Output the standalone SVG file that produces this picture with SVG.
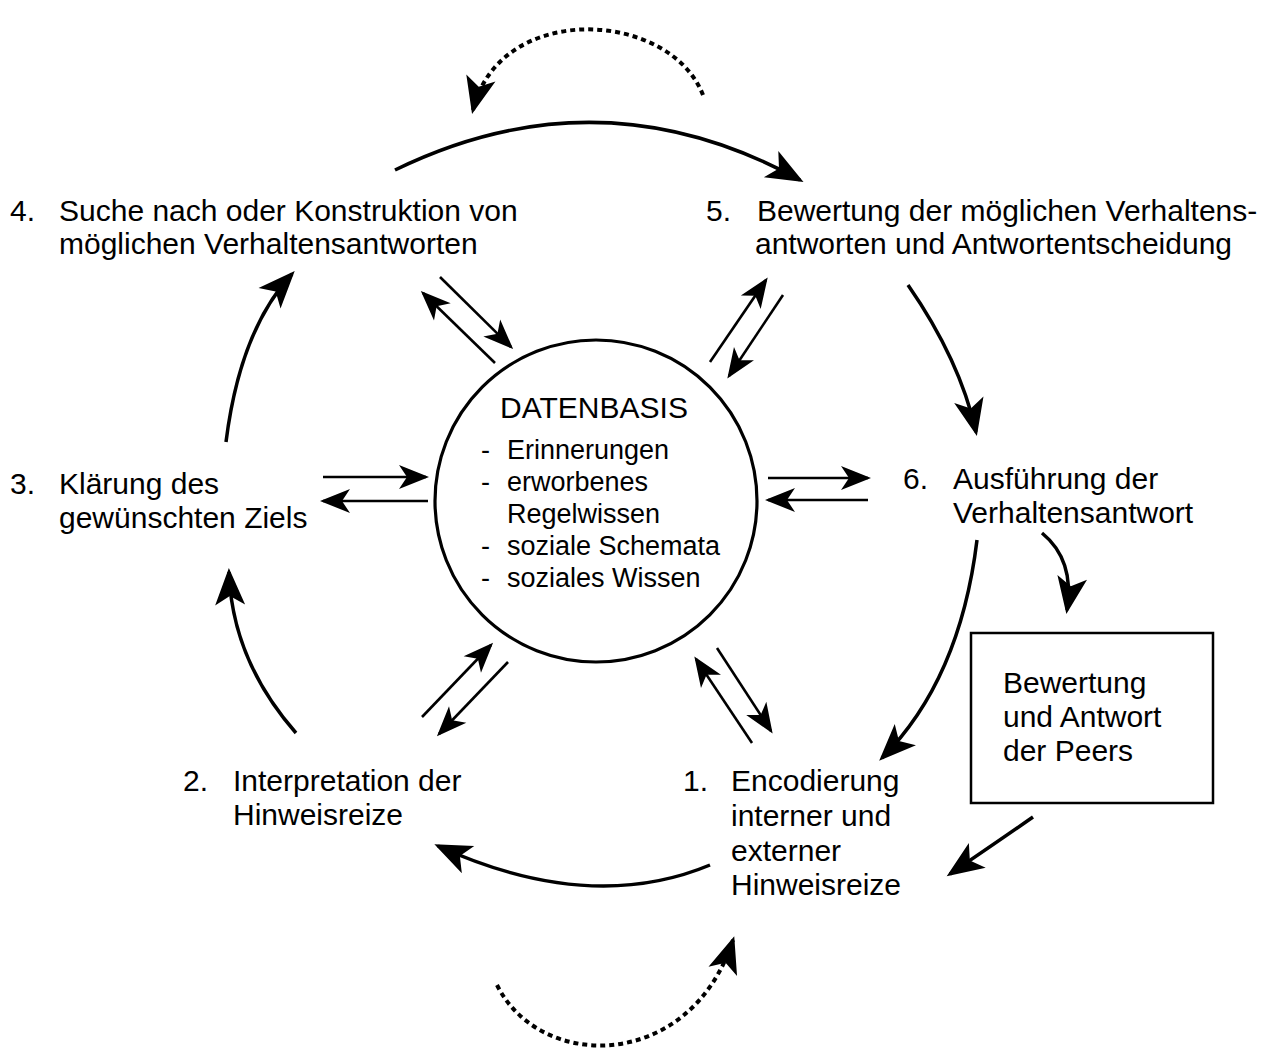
<svg xmlns="http://www.w3.org/2000/svg" width="1273" height="1052" viewBox="0 0 1273 1052">
<style>
text{font-family:"Liberation Sans",Arial,sans-serif;font-size:30px;fill:#000}
.l{font-size:27px}
.c{fill:none;stroke:#000;stroke-width:3.5}
.p{fill:none;stroke:#000;stroke-width:2.6}
.d{fill:none;stroke:#000;stroke-width:4;stroke-dasharray:5 4}
</style>
<defs>
<marker id="big" markerUnits="userSpaceOnUse" markerWidth="46" markerHeight="40" viewBox="-40 -20 46 40" refX="0" refY="0" orient="auto">
<path d="M4,0 L-33,-15 L-24,0 L-33,15 Z" fill="#000"/>
</marker>
<marker id="sm" markerUnits="userSpaceOnUse" markerWidth="38" markerHeight="34" viewBox="-32 -17 38 34" refX="0" refY="0" orient="auto">
<path d="M3,0 L-27,-12 L-19,0 L-27,12 Z" fill="#000"/>
</marker>
</defs>
<rect width="1273" height="1052" fill="#fff"/>
<g id="connectors">
<path class="c" d="M395,170 Q600,70 800,180" marker-end="url(#big)"/>
<path class="d" d="M703,95 C670,10 500,0 473,110" marker-end="url(#big)"/>
<path class="d" d="M497,985 C540,1072 690,1072 733,940" marker-end="url(#big)"/>
<path class="c" d="M226,442 Q240,330 292,274" marker-end="url(#big)"/>
<path class="c" d="M296,733 Q232,660 229,572" marker-end="url(#big)"/>
<path class="c" d="M710,865 Q590,915 438,846" marker-end="url(#big)"/>
<path class="c" d="M908,285 Q960,360 976,432" marker-end="url(#big)"/>
<path class="c" d="M977,540 Q960,680 882,758" marker-end="url(#big)"/>
<path class="c" d="M1042,533 Q1075,560 1067,610" marker-end="url(#big)"/>
<path class="c" d="M1033,817 Q1000,840 950,874" marker-end="url(#big)"/>
<path class="p" d="M323,477 L426,477" marker-end="url(#sm)"/>
<path class="p" d="M428,501 L323,501" marker-end="url(#sm)"/>
<path class="p" d="M768,478 L868,478" marker-end="url(#sm)"/>
<path class="p" d="M868,500 L768,500" marker-end="url(#sm)"/>
<path class="p" d="M495,363 L423,293" marker-end="url(#sm)"/>
<path class="p" d="M440,277 L511,347" marker-end="url(#sm)"/>
<path class="p" d="M710,362 L766,280" marker-end="url(#sm)"/>
<path class="p" d="M783,295 L729,376" marker-end="url(#sm)"/>
<path class="p" d="M422,717 L491,645" marker-end="url(#sm)"/>
<path class="p" d="M508,662 L439,734" marker-end="url(#sm)"/>
<path class="p" d="M752,743 L696,659" marker-end="url(#sm)"/>
<path class="p" d="M717,648 L771,731" marker-end="url(#sm)"/>
</g>
<g id="datenbasis">
<circle cx="596" cy="501" r="161" fill="none" stroke="#000" stroke-width="3.2"/>
<text x="594" y="418" text-anchor="middle">DATENBASIS</text>
<text class="l" x="481" y="459">-</text><text class="l" x="507" y="459">Erinnerungen</text>
<text class="l" x="481" y="491">-</text><text class="l" x="507" y="491">erworbenes</text>
<text class="l" x="507" y="523">Regelwissen</text>
<text class="l" x="481" y="555">-</text><text class="l" x="507" y="555">soziale Schemata</text>
<text class="l" x="481" y="587">-</text><text class="l" x="507" y="587">soziales Wissen</text>
</g>
<g id="step4">
<text x="10" y="221">4.</text>
<text x="59" y="221">Suche nach oder Konstruktion von</text>
<text x="59" y="254">möglichen Verhaltensantworten</text>
</g>
<g id="step5">
<text x="706" y="221">5.</text>
<text x="757" y="221">Bewertung der möglichen Verhaltens-</text>
<text x="755" y="254">antworten und Antwortentscheidung</text>
</g>
<g id="step3">
<text x="10" y="494">3.</text>
<text x="59" y="494">Klärung des</text>
<text x="59" y="528">gewünschten Ziels</text>
</g>
<g id="step6">
<text x="903" y="489">6.</text>
<text x="953" y="489">Ausführung der</text>
<text x="953" y="523">Verhaltensantwort</text>
</g>
<g id="step2">
<text x="183" y="791">2.</text>
<text x="233" y="791">Interpretation der</text>
<text x="233" y="825">Hinweisreize</text>
</g>
<g id="step1">
<text x="683" y="791">1.</text>
<text x="731" y="791">Encodierung</text>
<text x="731" y="826">interner und</text>
<text x="731" y="861">externer</text>
<text x="731" y="895">Hinweisreize</text>
</g>
<g id="peers">
<rect x="971" y="633" width="242" height="170" fill="none" stroke="#000" stroke-width="2.5"/>
<text x="1003" y="693">Bewertung</text>
<text x="1003" y="727">und Antwort</text>
<text x="1003" y="761">der Peers</text>
</g>
</svg>
